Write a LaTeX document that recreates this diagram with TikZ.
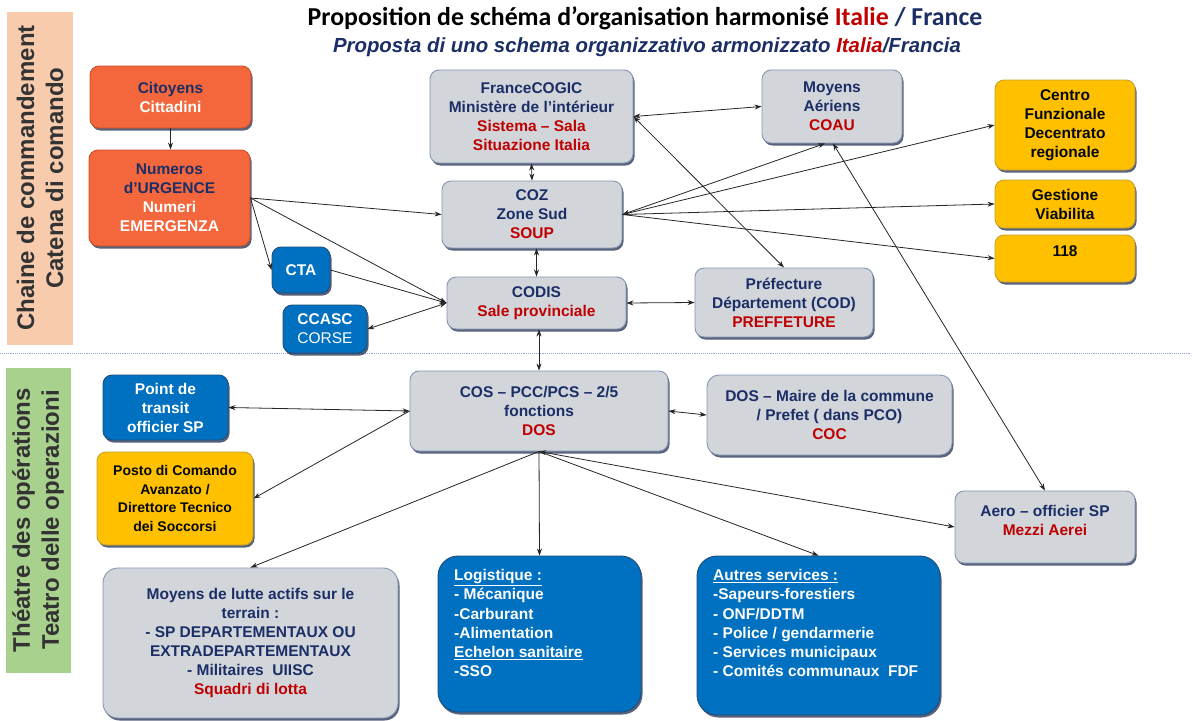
\documentclass[tikz,border=0pt]{standalone}
\usepackage{fontspec}
\setmainfont{Liberation Sans}
\newfontfamily\titlefont{Carlito}
\usetikzlibrary{arrows.meta,shadows,calc}
\definecolor{navy}{HTML}{1B2E66}
\definecolor{dred}{HTML}{C00000}
\definecolor{boxgray}{HTML}{D2D5DA}
\definecolor{grayline}{HTML}{8596B0}
\definecolor{orng}{HTML}{F4663B}
\definecolor{orngline}{HTML}{C8502A}
\definecolor{bl}{HTML}{0070C0}
\definecolor{blline}{HTML}{1F4E79}
\definecolor{yel}{HTML}{FFC000}
\definecolor{yelline}{HTML}{C9A227}
\definecolor{peach}{HTML}{F8CBAD}
\definecolor{lgreen}{HTML}{A9D18E}
\definecolor{sepblue}{HTML}{8FAADC}
\newcommand\redtxt[1]{\textcolor{dred}{#1}}
\newcommand\whtxt[1]{\textcolor{white}{#1}}
\newcommand\mkbox[7]{\node[#2, minimum width={(#5-#3)*1pt}, minimum height={(#6-#4)*1pt}] (#1) at ({(#3+#5)/2},{(#4+#6)/2}) {#7};}
\begin{document}
\begin{tikzpicture}[x=1pt,y=-1pt,
  box/.style={rounded corners=9pt, draw, line width=0.9pt, font=\bfseries\fontsize{15.5}{19}\selectfont, align=center, inner sep=2pt,
    drop shadow={shadow xshift=1.5pt, shadow yshift=-2.5pt, fill=navy!70!black, opacity=0.7}},
  graybox/.style={box, fill=boxgray, draw=grayline, text=navy},
  orangebox/.style={box, fill=orng, draw=orngline, text=navy},
  bluebox/.style={box, fill=bl, draw=blline, text=white},
  yellowbox/.style={box, fill=yel, draw=yelline, text=black!85!navy},
  bigbox/.style={rounded corners=20pt},
  conn/.style={line width=0.8pt, draw=black!85, -{Stealth[length=7pt,width=5pt]}},
  bi/.style={line width=0.8pt, draw=black!85, {Stealth[length=7pt,width=5pt]}-{Stealth[length=7pt,width=5pt]}},
  bandtxt/.style={rotate=90, align=center, text=black!80, font=\bfseries\fontsize{24}{29}\selectfont},
  boxtxt/.style={anchor=north west, align=left, inner sep=0pt, font=\bfseries\fontsize{15.5}{19.3}\selectfont, text=white}
]
\useasboundingbox (0,0) rectangle (1193,720);
\fill[white] (0,0) rectangle (1193,720);

% bands
\fill[peach] (7,12) rectangle (73,345);
\node[bandtxt] (band1) at (40,178) {Chaine de commandement\\Catena di comando};
\fill[lgreen] (6,368) rectangle (71,673);
\node[bandtxt] (band2) at (38,520) {Théatre des opérations\\Teatro delle operazioni};

% separator
\draw[sepblue, densely dotted, line width=0.9pt] (0,353) -- (1190,353);

% title
\node[font=\titlefont\bfseries\fontsize{25.8}{30}\selectfont, text=black] (title) at (645,18)
  {Proposition de schéma d’organisation harmonisé \textcolor{dred}{Italie} \textcolor{navy}{/ France}};
\node[font=\bfseries\itshape\fontsize{20.4}{24}\selectfont, text=navy] (subtitle) at (647,47)
  {Proposta di uno schema organizzativo armonizzato \textcolor{dred}{Italia}/Francia};

% upper boxes
\mkbox{cit}{orangebox}{90}{66}{251}{128}{Citoyens\\\whtxt{Cittadini}}
\mkbox{num}{orangebox}{89}{150}{250}{246}{Numeros\\d’URGENCE\\\whtxt{Numeri}\\\whtxt{EMERGENZA}}
\mkbox{cta}{bluebox}{272}{247}{330}{293}{CTA}
\mkbox{ccasc}{bluebox}{283}{305}{367}{353}{CCASC\\\mdseries CORSE}
\mkbox{cogic}{graybox}{430}{70}{633}{163}{FranceCOGIC\\Ministère de l’intérieur\\\redtxt{Sistema – Sala}\\\redtxt{Situazione Italia}}
\mkbox{coz}{graybox}{442}{181}{622}{248}{COZ\\Zone Sud\\\redtxt{SOUP}}
\mkbox{codis}{graybox}{447}{277}{626}{329}{CODIS\\\redtxt{Sale provinciale}}
\mkbox{pref}{graybox}{695}{268}{873}{337}{Préfecture\\Département (COD)\\\redtxt{PREFFETURE}}
\mkbox{moy}{graybox}{762}{70}{902}{143}{Moyens\\Aériens\\\redtxt{COAU}}
\mkbox{cen}{yellowbox}{995}{80}{1135}{170}{Centro\\Funzionale\\Decentrato\\regionale}
\mkbox{gest}{yellowbox}{995}{180}{1135}{228}{Gestione\\Viabilita}
\mkbox{nhuit}{yellowbox}{995}{235}{1135}{282}{}
\node[font=\bfseries\fontsize{15.5}{19}\selectfont, text=black!85!navy] (t118) at (1065,251) {118};

% lower boxes
\mkbox{cos}{graybox}{410}{371}{668}{451}{COS – PCC/PCS – 2/5\\fonctions\\\redtxt{DOS}}
\mkbox{dos}{graybox, rounded corners=12pt}{707}{375}{952}{455}{DOS – Maire de la commune\\/ Prefet ( dans PCO)\\\redtxt{COC}}
\mkbox{pt}{bluebox}{103}{375}{228}{440}{Point de\\transit\\officier SP}
\mkbox{posto}{yellowbox, font=\bfseries\fontsize{14}{18.5}\selectfont}{97}{452}{253}{545}{Posto di Comando\\Avanzato /\\Direttore Tecnico\\dei Soccorsi}
\mkbox{lutte}{graybox, rounded corners=15pt}{103}{568}{398}{718}{Moyens de lutte actifs sur le\\terrain :\\- SP DEPARTEMENTAUX OU\\EXTRADEPARTEMENTAUX\\- Militaires \ UIISC\\\redtxt{Squadri di lotta}}
\mkbox{logi}{bluebox, bigbox}{438}{556}{641}{712}{}
\node[boxtxt] (logiT) at (454,569) {\underline{Logistique :}\\- Mécanique\\-Carburant\\-Alimentation\\\underline{Echelon sanitaire}\\-SSO};
\mkbox{autres}{bluebox, bigbox}{697}{556}{940}{715}{}
\node[boxtxt] (autresT) at (713,569) {\underline{Autres services :}\\-Sapeurs-forestiers\\- ONF/DDTM\\- Police / gendarmerie\\- Services municipaux\\- Comités communaux \ FDF};
\mkbox{aero}{graybox}{955}{491}{1135}{563}{Aero – officier SP\\\redtxt{Mezzi Aerei}\\[-6pt]}

% connectors
\draw[conn] (cit.south) -- (cit.south |- num.north);
\draw[conn] (num.east) -- (coz.west);
\draw[conn] (num.east) -- (cta.west);
\draw[conn] (num.east) -- (codis.west);
\draw[conn] (cta.east) -- (codis.west);
\draw[bi] (codis.west) -- (ccasc.east);
\draw[bi] (cogic.south) -- (coz.north);
\draw[bi] (codis.north) -- (codis.north |- coz.south);
\draw[bi] (codis.east) -- (pref.west);
\draw[bi] (cogic.east) -- (moy.west);
\draw[bi] (cogic.east) -- (pref.north);
\draw[bi] (coz.east) -- ([xshift=-7pt]moy.south);
\draw[conn] (coz.east) -- (cen.west);
\draw[conn] (coz.east) -- (gest.west);
\draw[conn] (coz.east) -- (nhuit.west);
\draw[bi] ([xshift=1pt]moy.south) -- (aero.north);
\draw[bi] (cos.north) -- (cos.north |- codis.south);
\draw[bi] (cos.west) -- (pt.east);
\draw[conn] (cos.west) -- (posto.east);
\draw[conn] (cos.south) -- (lutte.north);
\draw[conn] (cos.south) -- (logi.north);
\draw[conn] (cos.south) -- (autres.north);
\draw[bi] (cos.south) -- (aero.west);
\draw[bi] (cos.east) -- (dos.west);
\end{tikzpicture}
\end{document}
